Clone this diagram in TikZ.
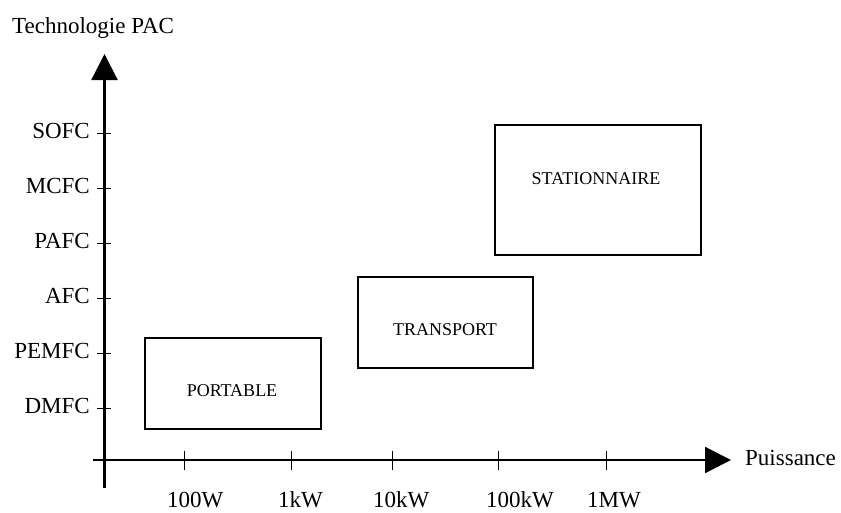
\documentclass[tikz,border=0pt]{standalone}
\usepackage{fontspec}
\setmainfont{Liberation Serif}
\usetikzlibrary{arrows.meta}
\begin{document}
\begin{tikzpicture}[x=1pt,y=-1pt,
  axis/.style={line width=2.2pt,-{Triangle[length=26pt,width=26pt]}},
  tick/.style={line width=0.9pt},
  region/.style={draw,line width=1.6pt,inner sep=0pt},
  boxtext/.style={font=\fontsize{18}{21}\selectfont,anchor=base,inner sep=0pt},
  axtext/.style={font=\fontsize{23}{27}\selectfont,inner sep=0pt}]
\useasboundingbox (0,0) rectangle (841,512);
% axes
\coordinate (xstart) at (93,460);
\coordinate (xend) at (731,460);
\coordinate (ystart) at (104.5,488);
\coordinate (yend) at (104.5,54);
\draw[axis] (xstart) -- (xend);
\draw[axis] (ystart) -- (yend);
% axis titles
\node[axtext,anchor=base west] (ytitle) at (12,33) {Technologie PAC};
\node[axtext,anchor=base west] (xtitle) at (745,465) {Puissance};
% y ticks and labels
\foreach \y/\lab in {133/SOFC,188/MCFC,243/PAFC,298/AFC,353/PEMFC,408/DMFC}{
  \draw[tick] (97,\y) -- (111,\y);
  \node[axtext,anchor=base east] at (90,\y+5.5) {\lab};
}
% x ticks and labels
\foreach \x/\lx/\lab in {184/167/100W,291/278/1kW,392/373/10kW,498/486/100kW,606/587/1MW}{
  \draw[tick] (\x,451) -- (\x,470);
  \node[axtext,anchor=base west] at (\lx,507) {\lab};
}
% regions
\node[region,minimum width=176pt,minimum height=91pt] (portable) at (233,383.5) {};
\node[boxtext] (portablelab) at (232,396) {PORTABLE};
\node[region,minimum width=175pt,minimum height=91pt] (transport) at (445.5,322.5) {};
\node[boxtext] (transportlab) at (445,335) {TRANSPORT};
\node[region,minimum width=206pt,minimum height=130pt] (station) at (598,190) {};
\node[boxtext] (stationlab) at (596,184) {STATIONNAIRE};
\end{tikzpicture}
\end{document}
